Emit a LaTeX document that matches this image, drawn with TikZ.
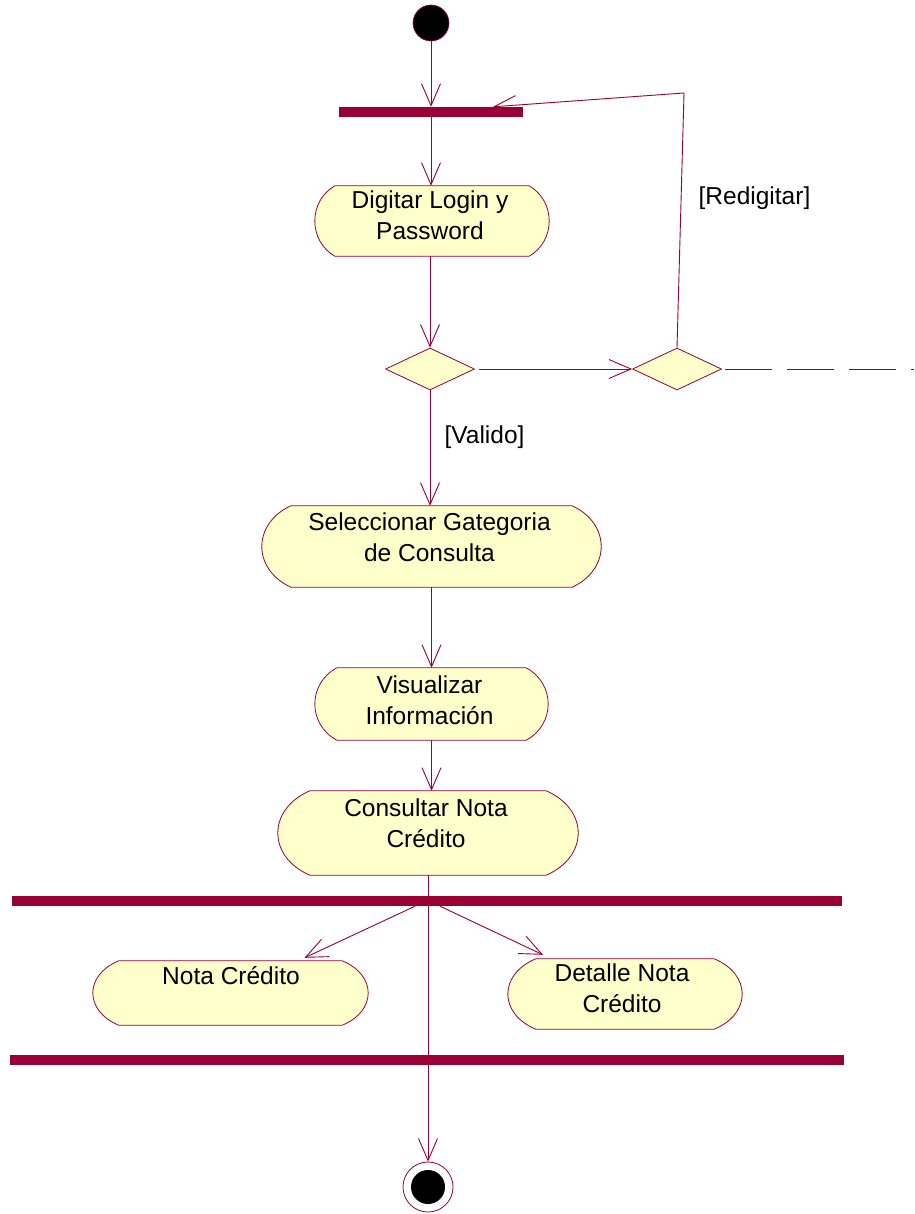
\documentclass[tikz,border=0pt]{standalone}
\usepackage{fontspec}
\setmainfont{Liberation Sans}
\usetikzlibrary{arrows.meta,shapes.geometric,calc}
\definecolor{umlline}{HTML}{990033}
\definecolor{umlfill}{HTML}{FFFFCC}

% Outline of an activity state: straight top and bottom, bulging ends.
% #1 = node name, #2 = horizontal depth of the rounded ends (pt)
\newcommand\actoutline[2]{%
  \path[actshape] let \p1=(#1.north west), \p2=(#1.south east) in
    (\x1+#2pt,\y1) -- (\x2-#2pt,\y1)
    .. controls (\x2+#2pt/3,\y1+0.22*\y2-0.22*\y1) and (\x2+#2pt/3,\y2-0.22*\y2+0.22*\y1) .. (\x2-#2pt,\y2)
    -- (\x1+#2pt,\y2)
    .. controls (\x1-#2pt/3,\y2-0.22*\y2+0.22*\y1) and (\x1-#2pt/3,\y1+0.22*\y2-0.22*\y1) .. cycle;}

\begin{document}
\begin{tikzpicture}[x=1pt,y=-1pt,
  flow/.style={draw=umlline, line width=0.9pt,
    -{Straight Barb[length=22pt,width=19pt,line width=0.9pt]}},
  dashline/.style={draw=umlline, line width=0.9pt, dash pattern=on 47pt off 15pt},
  actshape/.style={draw=umlline, fill=umlfill, line width=0.8pt},
  actbox/.style={rectangle, draw=none, inner sep=0pt},
  txt/.style={font=\fontsize{24.5}{31}\selectfont, inner sep=0pt, text=black},
  dec/.style={diamond, draw=umlline, fill=umlfill, line width=0.8pt, inner sep=0pt,
    minimum width=89pt, minimum height=42pt, shape aspect=2.1},
  syncbar/.style={rectangle, fill=umlline, draw=none, inner sep=0pt, minimum height=10pt},
  startst/.style={circle, fill=black, draw=umlline, line width=0.6pt, inner sep=0pt, minimum size=36pt},
  endout/.style={circle, fill=white, draw=umlline, line width=0.8pt, inner sep=0pt, minimum size=50pt},
  endin/.style={circle, fill=black, inner sep=0pt, minimum size=34pt}
]
\useasboundingbox[fill=white] (0,0) rectangle (914,1214);

% initial state and first synchronisation bar
\node[startst] (start) at (431,23) {};
\node[syncbar, minimum width=184pt] (bar1) at (431,112) {};

% login
\node[actbox, minimum width=234pt, minimum height=70pt] (dig) at (432,221) {};
\actoutline{dig}{20}
\node[txt, anchor=base] (dig-text) at (430,209)
  {\begin{tabular}[t]{@{}c@{}}Digitar Login y\\Password\end{tabular}};

% decisions
\node[dec] (d1) at (430,369) {};
\node[dec] (d2) at (677,369) {};

% category selection
\node[actbox, minimum width=339pt, minimum height=81pt] (sel) at (431.5,546.5) {};
\actoutline{sel}{29}
\node[txt, anchor=base] (sel-text) at (429.5,530)
  {\begin{tabular}[t]{@{}c@{}}Seleccionar Gategoria\\de Consulta\end{tabular}};

% view information
\node[actbox, minimum width=233pt, minimum height=72pt] (vis) at (431.5,704) {};
\actoutline{vis}{22}
\node[txt, anchor=base] (vis-text) at (429.5,693)
  {\begin{tabular}[t]{@{}c@{}}Visualizar\\Información\end{tabular}};

% credit note query
\node[actbox, minimum width=300pt, minimum height=84pt] (con) at (428,833) {};
\actoutline{con}{32}
\node[txt, anchor=base] (con-text) at (426,816)
  {\begin{tabular}[t]{@{}c@{}}Consultar Nota\\Crédito\end{tabular}};

% fork / join bars
\node[syncbar, minimum width=830pt] (bar2) at (427,901) {};
\node[syncbar, minimum width=834pt] (bar3) at (427,1060) {};

% parallel activities
\node[actbox, minimum width=275pt, minimum height=64pt] (nota) at (230.5,993) {};
\actoutline{nota}{26}
\node[txt, anchor=base] (nota-text) at (231,984) {Nota Crédito};

\node[actbox, minimum width=234pt, minimum height=70pt] (det) at (625,994) {};
\actoutline{det}{28}
\node[txt, anchor=base] (det-text) at (622,981)
  {\begin{tabular}[t]{@{}c@{}}Detalle Nota\\Crédito\end{tabular}};

% final state
\node[endout] (end) at (428,1187) {};
\node[endin] (end-core) at (end) {};

% guard labels
\node[txt, anchor=base] (valid-lbl) at (484.5,443) {[Valido]};
\node[txt, anchor=base] (redo-lbl) at (754.5,205) {[Redigitar]};

% transitions
\draw[flow] (start) -- (bar1.north);
\draw[flow] (bar1.south) -- (bar1.south |- dig.north);
\draw[flow] (d1.north |- dig.south) -- (d1.north);
\draw[flow] (d1.south) -- (d1.south |- sel.north);
\draw[flow] (sel.south) -- (vis.north);
\draw[flow] (vis.south) -- (vis.south |- con.north);
\draw[flow] (con.south) -- (end.north);
\draw[flow, shorten <=4pt] (d1.east) -- (d2.west);

\coordinate (redo-turn) at (684,93);
\draw[flow] (d2.north) -- (redo-turn) -- ($(bar1.north)+(62,0)$);

\coordinate (exit) at (914,369);
\draw[dashline, shorten <=3pt] (d2.east) -- (exit);

\draw[flow] ($(bar2.south)+(-12,0)$) -- ($(nota.north)+(74,-3)$);
\draw[flow] ($(bar2.south)+(13,0)$) -- ($(det.north)+(-82,-4)$);
\end{tikzpicture}
\end{document}
